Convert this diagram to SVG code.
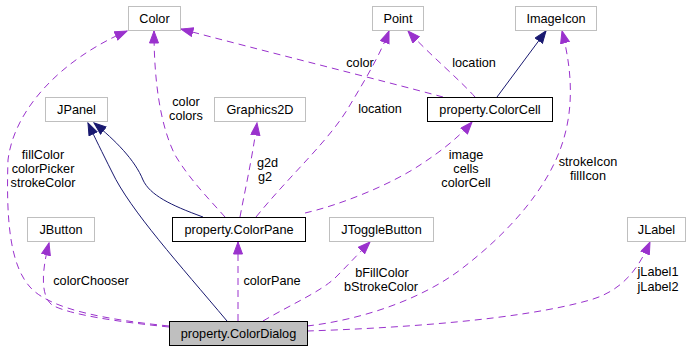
<svg xmlns="http://www.w3.org/2000/svg" width="691" height="352" viewBox="0 0 691 352">
  <style>
    text { font-family: "Liberation Sans", Arial, sans-serif; font-size: 12.7px; fill: #000; }
    .node text { text-anchor: middle; }
    .ext rect { fill: #fff; stroke: #bfbfbf; stroke-width: 1; }
    .cls rect { fill: #fff; stroke: #000; stroke-width: 1; }
    .cur rect { fill: #bfbfbf; stroke: #000; stroke-width: 1; }
    .use { fill: none; stroke: #9a32cd; stroke-width: 1; stroke-dasharray: 7 5; marker-end: url(#headUse); }
    .inh { fill: none; stroke: #191970; stroke-width: 1; marker-end: url(#headInh); }
    .lbl { text-anchor: middle; }
  </style>
  <defs>
    <marker id="headUse" markerUnits="userSpaceOnUse" markerWidth="14" markerHeight="11" refX="12.5" refY="5" orient="auto">
      <path d="M0.5,0.5 L12.5,5 L0.5,9.5 Z" fill="#9a32cd" stroke="#9a32cd" stroke-width="1"/>
    </marker>
    <marker id="headInh" markerUnits="userSpaceOnUse" markerWidth="14" markerHeight="11" refX="12.5" refY="5" orient="auto">
      <path d="M0.5,0.5 L12.5,5 L0.5,9.5 Z" fill="#191970" stroke="#191970" stroke-width="1"/>
    </marker>
  </defs>

  <!-- connectors -->
  <g id="edges">
    <!-- ColorDialog -> Color -->
    <path class="use" d="M169,326 C110,320 50,310 30,287 C10,265 6,220 8,160 C14,110 60,60 127,31"/>
    <!-- ColorDialog -> JButton -->
    <path class="use" d="M169,327 C120,322 70,315 52,305 C40,295 42,270 49,243"/>
    <!-- ColorDialog -> JPanel (inheritance) -->
    <path class="inh" d="M227,321 C180,265 130,210 112,172 C102,152 95,138 88,123"/>
    <!-- ColorPane -> JPanel (inheritance) -->
    <path class="inh" d="M203,217 C170,205 150,195 143,180 C135,160 115,140 94,123"/>
    <!-- ColorPane -> Color -->
    <path class="use" d="M225,217 C210,200 190,180 175,155 C160,125 154,80 154,31"/>
    <!-- ColorPane -> Graphics2D -->
    <path class="use" d="M240,217 C244,195 252,160 257,123"/>
    <!-- ColorPane -> Point -->
    <path class="use" d="M256,217 C290,175 330,140 350,105 C365,80 380,55 389,31"/>
    <!-- ColorPane -> ColorCell -->
    <path class="use" d="M305,213 C340,205 390,185 420,165 C440,152 458,138 472,122"/>
    <!-- ColorCell -> Color -->
    <path class="use" d="M443,97 C380,80 260,50 181,29"/>
    <!-- ColorCell -> Point -->
    <path class="use" d="M475,97 C460,80 430,55 408,31"/>
    <!-- ColorCell -> ImageIcon (inheritance) -->
    <path class="inh" d="M497,97 L546,31"/>
    <!-- ColorDialog -> ImageIcon -->
    <path class="use" d="M307,326 C360,320 420,300 460,270 C510,232 545,190 560,150 C575,110 572,70 562,31"/>
    <!-- ColorDialog -> JToggleButton -->
    <path class="use" d="M263,321 C290,305 320,292 335,278 C348,265 360,252 370,242"/>
    <!-- ColorDialog -> ColorPane -->
    <path class="use" d="M238,321 L238,242"/>
    <!-- ColorDialog -> JLabel -->
    <path class="use" d="M307,331 C400,328 520,320 590,300 C625,290 640,265 650,242"/>

    <!-- edge labels -->
    <text class="lbl" x="43" y="159">fillColor</text>
    <text class="lbl" x="43" y="173">colorPicker</text>
    <text class="lbl" x="43" y="187">strokeColor</text>
    <text class="lbl" x="186" y="106">color</text>
    <text class="lbl" x="186" y="120">colors</text>
    <text x="257" y="167">g2d</text>
    <text x="258" y="181">g2</text>
    <text class="lbl" x="380" y="113">location</text>
    <text class="lbl" x="360" y="67">color</text>
    <text class="lbl" x="474" y="67">location</text>
    <text class="lbl" x="466" y="159">image</text>
    <text class="lbl" x="466" y="173">cells</text>
    <text class="lbl" x="466" y="187">colorCell</text>
    <text class="lbl" x="588" y="166">strokeIcon</text>
    <text class="lbl" x="588" y="180">fillIcon</text>
    <text class="lbl" x="91" y="285">colorChooser</text>
    <text class="lbl" x="272" y="285">colorPane</text>
    <text class="lbl" x="382" y="277">bFillColor</text>
    <text class="lbl" x="381" y="291">bStrokeColor</text>
    <text class="lbl" x="658" y="276">jLabel1</text>
    <text class="lbl" x="658" y="291">jLabel2</text>
  </g>

  <!-- nodes -->
  <g id="Color" class="node ext"><rect x="128.5" y="6.5" width="52" height="24"/><text x="154.5" y="23">Color</text></g>
  <g id="Point" class="node ext"><rect x="372.5" y="6.5" width="51" height="24"/><text x="398" y="23">Point</text></g>
  <g id="ImageIcon" class="node ext"><rect x="515.5" y="6.5" width="81" height="24"/><text x="556" y="23">ImageIcon</text></g>
  <g id="JPanel" class="node ext"><rect x="45.5" y="97.5" width="62" height="24"/><text x="76.5" y="114">JPanel</text></g>
  <g id="Graphics2D" class="node ext"><rect x="214.5" y="97.5" width="91" height="24"/><text x="260" y="114">Graphics2D</text></g>
  <g id="ColorCell" class="node cls"><rect x="427.5" y="97.5" width="125" height="24"/><text x="490" y="114">property.ColorCell</text></g>
  <g id="JButton" class="node ext"><rect x="27.5" y="217.5" width="67" height="24"/><text x="61" y="234">JButton</text></g>
  <g id="ColorPane" class="node cls"><rect x="172.5" y="217.5" width="133" height="24"/><text x="239" y="234">property.ColorPane</text></g>
  <g id="JToggleButton" class="node ext"><rect x="329.5" y="217.5" width="104" height="24"/><text x="381.5" y="234">JToggleButton</text></g>
  <g id="JLabel" class="node ext"><rect x="627.5" y="217.5" width="58" height="24"/><text x="656.5" y="234">JLabel</text></g>
  <g id="ColorDialog" class="node cur"><rect x="169.5" y="321.5" width="138" height="24"/><text x="238.5" y="338">property.ColorDialog</text></g>
</svg>
